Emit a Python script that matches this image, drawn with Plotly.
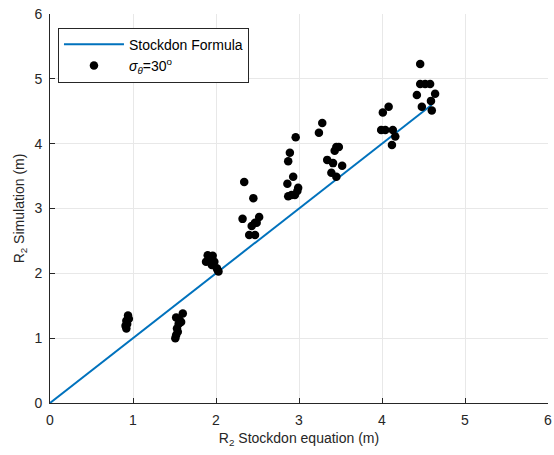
import plotly.graph_objects as go

# Data
stockdon_x = [0.91, 0.92, 0.93, 0.92, 0.94, 0.95,
              1.52, 1.60, 1.56, 1.55, 1.53, 1.52, 1.51, 1.58, 1.54,
              1.90, 1.96, 1.93, 1.98, 2.01, 2.02, 1.95, 1.88, 2.03,
              2.34, 2.45, 2.32, 2.52, 2.47, 2.43, 2.40, 2.47, 2.49,
              2.96, 2.89, 2.87, 2.93, 2.86, 2.99, 2.98, 2.87, 2.95, 2.91,
              3.28, 3.24, 3.45, 3.48, 3.43, 3.34, 3.41, 3.52, 3.39, 3.45,
              4.08, 4.01, 3.99, 4.04, 4.13, 4.16, 4.12,
              4.46, 4.46, 4.52, 4.58, 4.42, 4.64, 4.59, 4.48, 4.60]
simulation_y = [1.19, 1.27, 1.22, 1.15, 1.35, 1.30,
                1.32, 1.38, 1.28, 1.22, 1.15, 1.05, 1.00, 1.25, 1.10,
                2.28, 2.27, 2.18, 2.18, 2.08, 2.05, 2.13, 2.18, 2.03,
                3.41, 3.16, 2.84, 2.87, 2.78, 2.73, 2.59, 2.59, 2.78,
                4.10, 3.86, 3.73, 3.49, 3.38, 3.32, 3.27, 3.19, 3.21, 3.21,
                4.32, 4.17, 3.95, 3.95, 3.89, 3.75, 3.70, 3.66, 3.55, 3.49,
                4.57, 4.48, 4.21, 4.21, 4.21, 4.11, 3.98,
                5.23, 4.92, 4.92, 4.92, 4.75, 4.77, 4.66, 4.57, 4.51]
formula_x = [0, 4.6]
formula_y = [0, 4.6]
ticks = [0, 1, 2, 3, 4, 5, 6]

font = "Liberation Sans, Arial, sans-serif"
axis_col = "#262626"

fig = go.Figure()
fig.add_trace(go.Scatter(x=formula_x, y=formula_y, mode="lines",
                         line=dict(color="#0072BD", width=2),
                         name="Stockdon Formula"))
fig.add_trace(go.Scatter(x=stockdon_x, y=simulation_y, mode="markers",
                         marker=dict(color="black", size=8.5),
                         name="<i>σ</i><sub><i>θ</i></sub>=30<sup>o</sup>"))

axis_common = dict(range=[0, 6], tickvals=ticks, showgrid=True, gridcolor="#e8e8e8",
                   gridwidth=1, zeroline=False, showline=True, linecolor=axis_col,
                   linewidth=1, ticks="inside", ticklen=5, tickcolor=axis_col,
                   tickfont=dict(family=font, size=14, color=axis_col),
                   mirror=False, automargin=False, ticklabelstandoff=4)

fig.update_xaxes(**axis_common,
                 title=dict(text="R<sub>2</sub> Stockdon equation (m)",
                            font=dict(family=font, size=14, color=axis_col), standoff=6))
fig.update_yaxes(**axis_common,
                 title=dict(text="R<sub>2</sub> Simulation (m)",
                            font=dict(family=font, size=14, color=axis_col), standoff=6))

fig.update_layout(
    width=554, height=455,
    margin=dict(l=50, r=6, t=14, b=52),
    plot_bgcolor="white", paper_bgcolor="white",
    font=dict(family=font, color=axis_col),
    legend=dict(x=0.016, y=0.965, xanchor="left", yanchor="top",
                bgcolor="white", bordercolor=axis_col, borderwidth=1,
                font=dict(family=font, size=14, color="black"),
                itemwidth=60, tracegroupgap=0),
)

fig.write_html("out.html")
